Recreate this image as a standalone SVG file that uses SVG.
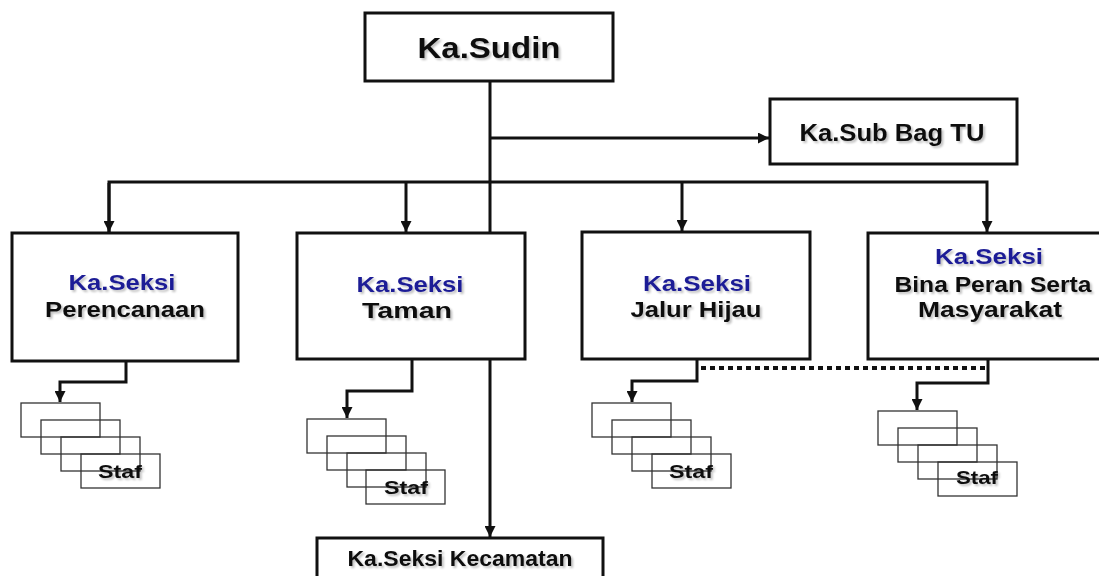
<svg xmlns="http://www.w3.org/2000/svg" width="1099" height="576" viewBox="0 0 1099 576">
  <style>
    .box { fill: #ffffff; stroke: #111111; stroke-width: 3; }
    .staf { fill: none; stroke: #333333; stroke-width: 1.3; }
    .wire { fill: none; stroke: #111111; stroke-width: 3; }
    .dotted { fill: none; stroke: #111111; stroke-width: 4; stroke-dasharray: 5 4; }
    text { font-family: "Liberation Sans", Arial, sans-serif; font-weight: bold; text-anchor: middle; fill: #111111; filter: url(#soft); }
    .title { font-size: 29px; }
    .head { font-size: 22px; fill: #1f1f96; }
    .name { font-size: 22px; }
    .small { font-size: 19px; }
  </style>
  <defs>
    <marker id="arrow" markerUnits="userSpaceOnUse" markerWidth="11" markerHeight="11" refX="11" refY="5.5" orient="auto">
      <path d="M0,0 L11,5.5 L0,11 z" fill="#111111"/>
    </marker>
    <filter id="soft" x="-10%" y="-30%" width="130%" height="170%">
      <feGaussianBlur in="SourceAlpha" stdDeviation="1.2"/>
      <feOffset dx="1.5" dy="1.5" result="b"/>
      <feComponentTransfer><feFuncA type="linear" slope="0.25"/></feComponentTransfer>
      <feMerge><feMergeNode/><feMergeNode in="SourceGraphic"/></feMerge>
    </filter>
  </defs>

  <!-- connectors (drawn beneath the boxes) -->
  <g id="connectors">
    <path class="wire" d="M490,81 V537" marker-end="url(#arrow)"/>
    <path class="wire" d="M490,138 H769" marker-end="url(#arrow)"/>
    <path class="wire" d="M109,232 V182 H987 V232" marker-end="url(#arrow)"/>
    <path class="wire" d="M109,183 V232" marker-end="url(#arrow)"/>
    <path class="wire" d="M406,182 V232" marker-end="url(#arrow)"/>
    <path class="wire" d="M682,182 V231" marker-end="url(#arrow)"/>
    <path class="wire" d="M126,361 V382 H60 V402" marker-end="url(#arrow)"/>
    <path class="wire" d="M412,359 V391 H347 V418" marker-end="url(#arrow)"/>
    <path class="wire" d="M697,359 V381 H632 V402" marker-end="url(#arrow)"/>
    <path class="wire" d="M988,359 V383 H917 V410" marker-end="url(#arrow)"/>
    <path class="dotted" d="M701,368 H986"/>
  </g>

  <g id="ka-sudin">
    <rect class="box" x="365" y="13" width="248" height="68"/>
    <text class="title" x="489" y="58" textLength="143" lengthAdjust="spacingAndGlyphs">Ka.Sudin</text>
  </g>

  <g id="ka-sub-bag-tu">
    <rect class="box" x="770" y="99" width="247" height="65"/>
    <text class="name" x="892" y="141" style="font-size:23px" textLength="185" lengthAdjust="spacingAndGlyphs">Ka.Sub Bag TU</text>
  </g>

  <g id="seksi-perencanaan">
    <rect class="box" x="12" y="233" width="226" height="128"/>
    <text class="head" x="122" y="290" textLength="107" lengthAdjust="spacingAndGlyphs">Ka.Seksi</text>
    <text class="name" x="125" y="317" textLength="160" lengthAdjust="spacingAndGlyphs">Perencanaan</text>
  </g>

  <g id="seksi-taman">
    <rect class="box" x="297" y="233" width="228" height="126"/>
    <text class="head" x="410" y="292" textLength="107" lengthAdjust="spacingAndGlyphs">Ka.Seksi</text>
    <text class="name" x="407" y="318" textLength="90" lengthAdjust="spacingAndGlyphs">Taman</text>
  </g>

  <g id="seksi-jalur-hijau">
    <rect class="box" x="582" y="232" width="228" height="127"/>
    <text class="head" x="697" y="291" textLength="108" lengthAdjust="spacingAndGlyphs">Ka.Seksi</text>
    <text class="name" x="696" y="317" textLength="131" lengthAdjust="spacingAndGlyphs">Jalur Hijau</text>
  </g>

  <g id="seksi-bina-peran-serta">
    <rect class="box" x="868" y="233" width="240" height="126"/>
    <text class="head" x="989" y="264" textLength="108" lengthAdjust="spacingAndGlyphs">Ka.Seksi</text>
    <text class="name" x="993" y="292" textLength="197" lengthAdjust="spacingAndGlyphs">Bina Peran Serta</text>
    <text class="name" x="990" y="317" textLength="144" lengthAdjust="spacingAndGlyphs">Masyarakat</text>
  </g>

  <g id="seksi-kecamatan">
    <rect class="box" x="317" y="538" width="286" height="50"/>
    <text class="name" x="460" y="566" textLength="225" lengthAdjust="spacingAndGlyphs">Ka.Seksi Kecamatan</text>
  </g>

  <g id="staf-perencanaan">
    <rect class="staf" x="21" y="403" width="79" height="34"/>
    <rect class="staf" x="41" y="420" width="79" height="34"/>
    <rect class="staf" x="61" y="437" width="79" height="34"/>
    <rect class="staf" x="81" y="454" width="79" height="34"/>
    <text class="small" x="120" y="478" textLength="44" lengthAdjust="spacingAndGlyphs">Staf</text>
  </g>

  <g id="staf-taman">
    <rect class="staf" x="307" y="419" width="79" height="34"/>
    <rect class="staf" x="327" y="436" width="79" height="34"/>
    <rect class="staf" x="347" y="453" width="79" height="34"/>
    <rect class="staf" x="366" y="470" width="79" height="34"/>
    <text class="small" x="406" y="494" textLength="44" lengthAdjust="spacingAndGlyphs">Staf</text>
  </g>

  <g id="staf-jalur-hijau">
    <rect class="staf" x="592" y="403" width="79" height="34"/>
    <rect class="staf" x="612" y="420" width="79" height="34"/>
    <rect class="staf" x="632" y="437" width="79" height="34"/>
    <rect class="staf" x="652" y="454" width="79" height="34"/>
    <text class="small" x="691" y="478" textLength="44" lengthAdjust="spacingAndGlyphs">Staf</text>
  </g>

  <g id="staf-bina-peran-serta">
    <rect class="staf" x="878" y="411" width="79" height="34"/>
    <rect class="staf" x="898" y="428" width="79" height="34"/>
    <rect class="staf" x="918" y="445" width="79" height="34"/>
    <rect class="staf" x="938" y="462" width="79" height="34"/>
    <text class="small" x="977" y="484" textLength="42" lengthAdjust="spacingAndGlyphs">Staf</text>
  </g>
</svg>
